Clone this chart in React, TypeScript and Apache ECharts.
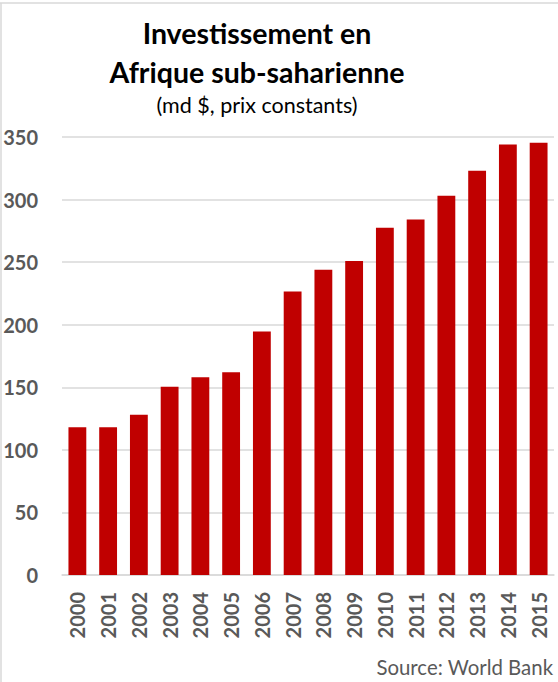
import React, { useEffect, useRef } from "react";
import * as echarts from "echarts";

const years = ["2000","2001","2002","2003","2004","2005","2006","2007","2008","2009","2010","2011","2012","2013","2014","2015"];
const investment = [118, 118, 128, 150.5, 158, 162, 194.5, 226.5, 244, 251, 277.5, 284, 303, 323, 344, 345.5];
const yTicks = { min: 0, max: 350, interval: 50 };
const titleLines = ["Investissement en", "Afrique sub-saharienne"];
const subtitle = "(md $, prix constants)";
const source = "Source: World Bank";

const FONT = "Lato, 'Noto Sans', sans-serif";

export default function App() {
  const ref = useRef<HTMLDivElement>(null);
  useEffect(() => {
    if (!ref.current) return;
    const chart = echarts.init(ref.current, undefined, { renderer: "svg" });
    chart.setOption({
      animation: false,
      backgroundColor: "#ffffff",
      grid: { left: 62, right: 4, top: 137, bottom: 107, containLabel: false },
      xAxis: {
        type: "category",
        data: years,
        axisLine: { show: true, lineStyle: { color: "#d9d9d9", width: 1.5 } },
        axisTick: { show: false },
        axisLabel: { rotate: 90, margin: 17, fontFamily: FONT, fontSize: 20, fontWeight: "bold", color: "#595959", interval: 0 },
      },
      yAxis: {
        type: "value",
        min: yTicks.min,
        max: yTicks.max,
        interval: yTicks.interval,
        axisLine: { show: false },
        axisTick: { show: false },
        splitLine: { lineStyle: { color: "#d9d9d9", width: 1.5 } },
        axisLabel: { margin: 24, fontFamily: FONT, fontSize: 20, fontWeight: "bold", color: "#595959" },
      },
      series: [
        {
          type: "bar",
          data: investment,
          barWidth: "58%",
          itemStyle: { color: "#C00000" },
        },
      ],
      graphic: [
        { type: "line", shape: { x1: 0, y1: 3, x2: 558, y2: 3 }, style: { stroke: "#d9d9d9", lineWidth: 1.5 } },
        { type: "line", shape: { x1: 1, y1: 3, x2: 1, y2: 682 }, style: { stroke: "#d9d9d9", lineWidth: 1.5 } },
        {
          type: "text", x: 257, y: 33,
          style: { text: titleLines[0], fontFamily: FONT, fontSize: 28.5, fontWeight: "bold", fill: "#000000", textAlign: "center", textVerticalAlign: "middle" },
        },
        {
          type: "text", x: 257, y: 72,
          style: { text: titleLines[1], fontFamily: FONT, fontSize: 28.5, fontWeight: "bold", fill: "#000000", textAlign: "center", textVerticalAlign: "middle" },
        },
        {
          type: "text", x: 257, y: 105,
          style: { text: subtitle, fontFamily: FONT, fontSize: 21.5, fill: "#000000", textAlign: "center", textVerticalAlign: "middle" },
        },
        {
          type: "text", x: 553, y: 667,
          style: { text: source, fontFamily: FONT, fontSize: 20.4, fill: "#595959", textAlign: "right", textVerticalAlign: "middle" },
        },
      ],
    });
    return () => chart.dispose();
  }, []);
  return <div ref={ref} style={{ position: "fixed", left: 0, top: 0, width: 558, height: 682 }} />;
}
